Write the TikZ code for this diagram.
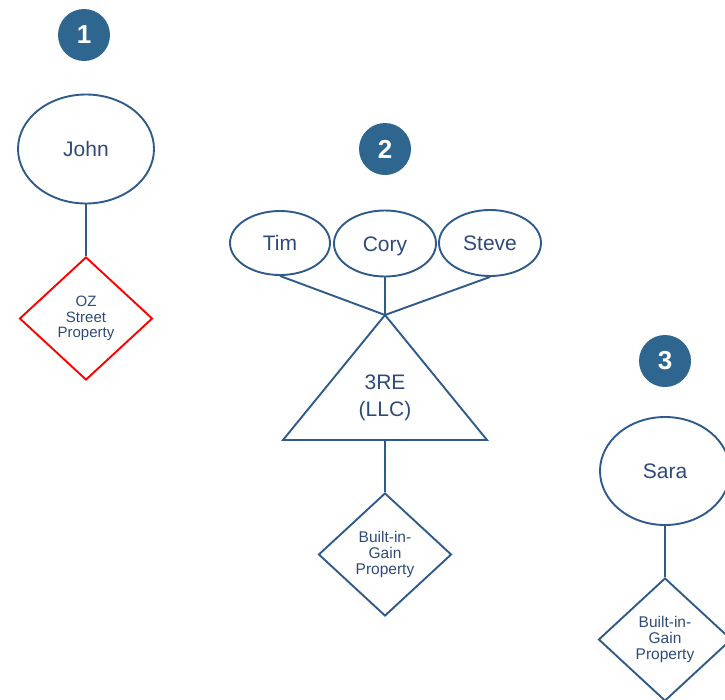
\documentclass[tikz,border=0pt]{standalone}
\usepackage{fontspec}
\setmainfont{Liberation Sans}
\usetikzlibrary{shapes.geometric}
\definecolor{lineblue}{HTML}{2F5A8C}
\definecolor{textblue}{HTML}{2E4A7A}
\definecolor{badgeblue}{HTML}{2E6690}
\definecolor{ozred}{HTML}{FF0000}
\begin{document}
\begin{tikzpicture}[x=1pt,y=-1pt,
  person/.style={ellipse,draw=lineblue,line width=1.9pt,inner sep=0pt,text=textblue,text height=15pt,text depth=0pt,font=\fontsize{21}{24}\selectfont},
  prop/.style={diamond,draw=lineblue,line width=1.9pt,inner sep=0pt,minimum width=133pt,minimum height=123pt,text=textblue,align=center,font=\fontsize{15.5}{16}\selectfont},
  badge/.style={circle,fill=badgeblue,minimum size=52pt,inner sep=0pt,text=white,font=\fontsize{26}{28}\selectfont\bfseries},
  link/.style={draw=lineblue,line width=1.9pt}]
\useasboundingbox (0,0) rectangle (725,699);
\clip (0,0) rectangle (725,699);
% group 1
\node[badge] (b1) at (84,35) {1};
\node[person,minimum width=136pt,minimum height=109pt] (john) at (86,149) {John};
\node[prop,draw=ozred,font=\fontsize{15}{15.5}\selectfont] (oz) at (86,318.5) {OZ\\Street\\Property};
\draw[link] (john.south) -- (oz.north);
% group 2
\node[badge] (b2) at (385,149) {2};
\node[person,minimum width=100pt,minimum height=64pt] (tim) at (280,243) {Tim};
\node[person,minimum width=102pt,minimum height=66pt] (cory) at (385,243.5) {Cory};
\node[person,minimum width=102pt,minimum height=66pt] (steve) at (490,243) {Steve};
\coordinate (apex) at (385,315);
\coordinate (bl) at (283,440);
\coordinate (br) at (487,440);
\coordinate (bm) at (385,440);
\draw[link,line join=miter] (apex) -- (bl) -- (br) -- cycle;
\node[text=textblue,align=center,font=\fontsize{21}{27}\selectfont] (llc) at (385,398) {3RE\\(LLC)};
\draw[link] (tim.south) -- (apex);
\draw[link] (cory.south) -- (apex);
\draw[link] (steve.south) -- (apex);
\node[prop] (big2) at (385,554.5) {Built-in-\\Gain\\Property};
\draw[link] (bm) -- (big2.north);
% group 3
\node[badge] (b3) at (665,361) {3};
\node[person,minimum width=130pt,minimum height=108pt] (sara) at (665,471) {Sara};
\node[prop] (big3) at (665,639.5) {Built-in-\\Gain\\Property};
\draw[link] (sara.south) -- (big3.north);
\end{tikzpicture}
\end{document}
